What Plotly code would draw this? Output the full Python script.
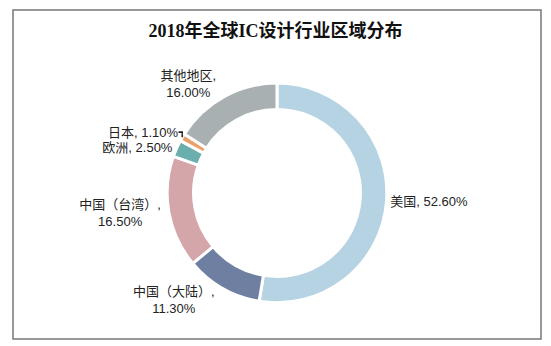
import plotly.graph_objects as go

title_text = "2018年全球IC设计行业区域分布"
regions = ["美国", "中国（大陆）", "中国（台湾）", "欧洲", "日本", "其他地区"]
shares = [52.60, 11.30, 16.50, 2.50, 1.10, 16.00]
colors = ["#b5d3e3", "#6e7fa2", "#d4a5a9", "#6aafae", "#e9a06c", "#a9b0b1"]
label_templates = [
    "%{label}, %{value:.2f}%",
    "%{label},<br>%{value:.2f}%",
    "%{label},<br>%{value:.2f}%",
    "%{label}, %{value:.2f}%",
    "%{label}, %{value:.2f}%",
    "%{label},<br>%{value:.2f}%",
]

fig = go.Figure()
fig.add_trace(go.Pie(
    labels=regions,
    values=shares,
    sort=False,
    direction="clockwise",
    rotation=0,
    hole=0.76,
    marker=dict(colors=colors, line=dict(color="white", width=3)),
    texttemplate=label_templates,
    textposition="outside",
    outsidetextfont=dict(family="Liberation Sans, Noto Sans CJK SC", size=13, color="#222"),
    domain=dict(x=[0.292, 0.708], y=[0.11, 0.778]),
    showlegend=False,
    hoverinfo="skip",
))

fig.update_layout(
    width=551, height=346,
    margin=dict(l=13, r=10, t=10, b=7),
    paper_bgcolor="white",
    plot_bgcolor="white",
    title=dict(
        text="<b>" + title_text + "</b>",
        x=0.5, xanchor="center", y=0.912, yanchor="middle",
        font=dict(family="Liberation Serif, Noto Sans CJK SC", size=18, color="#111"),
    ),
    shapes=[dict(type="rect", xref="paper", yref="paper", x0=0, x1=1, y0=0, y1=1,
                 line=dict(color="#777777", width=1.5), fillcolor="rgba(0,0,0,0)")],
)

fig.write_html("out.html")
